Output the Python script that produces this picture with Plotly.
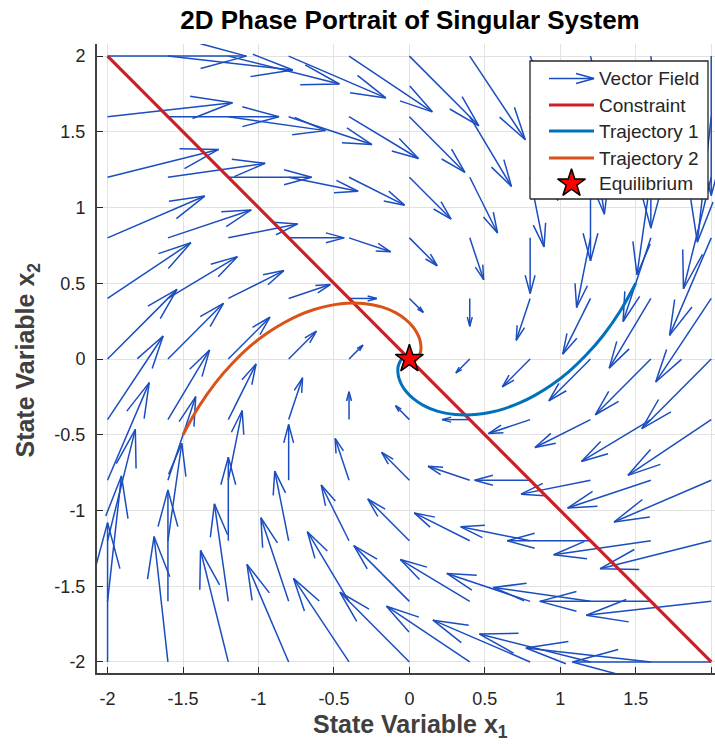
import plotly.graph_objects as go

# ---------------- data ----------------
XS = [-2.0, -1.6, -1.2, -0.8, -0.4, 0.0, 0.4, 0.8, 1.2, 1.6, 2.0]
YS = [-2.0, -1.6, -1.2, -0.8, -0.4, 0.0, 0.4, 0.8, 1.2, 1.6, 2.0]

# vector field components, one row per YS value, one column per XS value
U = [
    [0.0, -0.4, -0.8, -1.2, -1.6, -2.0, -2.4, -2.8, -3.2, -3.6, -4.0],
    [0.4, 0.0, -0.4, -0.8, -1.2, -1.6, -2.0, -2.4, -2.8, -3.2, -3.6],
    [0.8, 0.4, 0.0, -0.4, -0.8, -1.2, -1.6, -2.0, -2.4, -2.8, -3.2],
    [1.2, 0.8, 0.4, 0.0, -0.4, -0.8, -1.2, -1.6, -2.0, -2.4, -2.8],
    [1.6, 1.2, 0.8, 0.4, 0.0, -0.4, -0.8, -1.2, -1.6, -2.0, -2.4],
    [2.0, 1.6, 1.2, 0.8, 0.4, 0.0, -0.4, -0.8, -1.2, -1.6, -2.0],
    [2.4, 2.0, 1.6, 1.2, 0.8, 0.4, 0.0, -0.4, -0.8, -1.2, -1.6],
    [2.8, 2.4, 2.0, 1.6, 1.2, 0.8, 0.4, 0.0, -0.4, -0.8, -1.2],
    [3.2, 2.8, 2.4, 2.0, 1.6, 1.2, 0.8, 0.4, 0.0, -0.4, -0.8],
    [3.6, 3.2, 2.8, 2.4, 2.0, 1.6, 1.2, 0.8, 0.4, 0.0, -0.4],
    [4.0, 3.6, 3.2, 2.8, 2.4, 2.0, 1.6, 1.2, 0.8, 0.4, 0.0],
]
V = [
    [4.0, 3.6, 3.2, 2.8, 2.4, 2.0, 1.6, 1.2, 0.8, 0.4, 0.0],
    [3.6, 3.2, 2.8, 2.4, 2.0, 1.6, 1.2, 0.8, 0.4, 0.0, -0.4],
    [3.2, 2.8, 2.4, 2.0, 1.6, 1.2, 0.8, 0.4, 0.0, -0.4, -0.8],
    [2.8, 2.4, 2.0, 1.6, 1.2, 0.8, 0.4, 0.0, -0.4, -0.8, -1.2],
    [2.4, 2.0, 1.6, 1.2, 0.8, 0.4, 0.0, -0.4, -0.8, -1.2, -1.6],
    [2.0, 1.6, 1.2, 0.8, 0.4, 0.0, -0.4, -0.8, -1.2, -1.6, -2.0],
    [1.6, 1.2, 0.8, 0.4, 0.0, -0.4, -0.8, -1.2, -1.6, -2.0, -2.4],
    [1.2, 0.8, 0.4, 0.0, -0.4, -0.8, -1.2, -1.6, -2.0, -2.4, -2.8],
    [0.8, 0.4, 0.0, -0.4, -0.8, -1.2, -1.6, -2.0, -2.4, -2.8, -3.2],
    [0.4, 0.0, -0.4, -0.8, -1.2, -1.6, -2.0, -2.4, -2.8, -3.2, -3.6],
    [0.0, -0.4, -0.8, -1.2, -1.6, -2.0, -2.4, -2.8, -3.2, -3.6, -4.0],
]

CONSTRAINT_X = [-2.0, 2.0]
CONSTRAINT_Y = [2.0, -2.0]

TRAJ1_X = [1.500, 1.396, 1.285, 1.171, 1.057, 0.944, 0.834, 0.730, 0.631, 0.538,
           0.453, 0.375, 0.304, 0.184, 0.092, 0.024, -0.023, -0.053, -0.070,
           -0.076, -0.076, -0.070, -0.058, -0.043, -0.025, -0.009, 0.000, 0.003, 0.000]
TRAJ1_Y = [0.500, 0.315, 0.157, 0.026, -0.083, -0.170, -0.238, -0.290, -0.327, -0.351,
           -0.365, -0.370, -0.367, -0.344, -0.306, -0.260, -0.213, -0.167, -0.125,
           -0.089, -0.059, -0.035, -0.010, 0.006, 0.015, 0.015, 0.011, 0.002, 0.000]

TRAJ2_X = [-1.500, -1.396, -1.285, -1.171, -1.057, -0.944, -0.834, -0.730, -0.631, -0.538,
           -0.453, -0.375, -0.304, -0.184, -0.092, -0.024, 0.023, 0.053, 0.070,
           0.076, 0.076, 0.070, 0.058, 0.043, 0.025, 0.009, 0.000, -0.003, 0.000]
TRAJ2_Y = [-0.500, -0.315, -0.157, -0.026, 0.083, 0.170, 0.238, 0.290, 0.327, 0.351,
           0.365, 0.370, 0.367, 0.344, 0.306, 0.260, 0.213, 0.167, 0.125,
           0.089, 0.059, 0.035, 0.010, -0.006, -0.015, -0.015, -0.011, -0.002, 0.000]

EQ_X = [0.0]
EQ_Y = [0.0]

TICK_VALS = [-2, -1.5, -1, -0.5, 0, 0.5, 1, 1.5, 2]
TICK_TEXT = ["-2", "-1.5", "-1", "-0.5", "0", "0.5", "1", "1.5", "2"]

LEGEND_LABELS = ["Vector Field", "Constraint", "Trajectory 1", "Trajectory 2", "Equilibrium"]

# ---------------- style ----------------
QUIVER_COLOR = "#1a4dbf"
RED = "#cb2027"
BLUE = "#0072BD"
ORANGE = "#D95319"
AX_COLOR = "#262626"
FONT = "Liberation Sans, Arial, Helvetica, sans-serif"
SCALE = 0.23
ALPHA = 0.33
BETA = 0.27

W, H = 715, 744
ML, MT, MB = 97, 44, 71
PW, PH = W - ML, H - MT - MB

# quiver line segments
qx, qy = [], []
for j, y0 in enumerate(YS):
    for i, x0 in enumerate(XS):
        u = U[j][i] * SCALE
        v = V[j][i] * SCALE
        if u == 0 and v == 0:
            continue
        tx, ty = x0 + u, y0 + v
        qx += [x0, tx, None]
        qy += [y0, ty, None]
        qx += [tx - ALPHA * (u + BETA * v), tx, tx - ALPHA * (u - BETA * v), None]
        qy += [ty - ALPHA * (v - BETA * u), ty, ty - ALPHA * (v + BETA * u), None]

fig = go.Figure()
fig.add_trace(go.Scatter(x=qx, y=qy, mode="lines",
                         line=dict(color=QUIVER_COLOR, width=1.5),
                         hoverinfo="skip", showlegend=False))
fig.add_trace(go.Scatter(x=CONSTRAINT_X, y=CONSTRAINT_Y, mode="lines",
                         line=dict(color=RED, width=3.2), showlegend=False))
fig.add_trace(go.Scatter(x=TRAJ1_X, y=TRAJ1_Y, mode="lines", line_shape="spline",
                         line=dict(color=BLUE, width=3), showlegend=False))
fig.add_trace(go.Scatter(x=TRAJ2_X, y=TRAJ2_Y, mode="lines", line_shape="spline",
                         line=dict(color=ORANGE, width=3), showlegend=False))
fig.add_trace(go.Scatter(x=EQ_X, y=EQ_Y, mode="markers",
                         marker=dict(symbol="star", size=21, color="red",
                                     line=dict(color="black", width=1.5)),
                         showlegend=False))

# ---------------- manual legend on an overlay axis (pixel units) ----------------
bx0, bx1 = 433, 611
by0, by1 = 474, 612
fig.add_trace(go.Scatter(x=[bx0, bx1, bx1, bx0, bx0], y=[by0, by0, by1, by1, by0],
                         mode="lines", fill="toself", fillcolor="white",
                         line=dict(color=AX_COLOR, width=1.3),
                         xaxis="x2", yaxis="y2", showlegend=False, hoverinfo="skip"))
item_y = [594.5, 568, 542, 515, 489.5]
lx0, lx1 = 452, 497
fig.add_trace(go.Scatter(x=[lx0, lx1, None, lx1 - 18, lx1, lx1 - 18],
                         y=[item_y[0], item_y[0], None, item_y[0] + 5, item_y[0], item_y[0] - 5],
                         mode="lines", line=dict(color=QUIVER_COLOR, width=1.5),
                         xaxis="x2", yaxis="y2", showlegend=False, hoverinfo="skip"))
for k, col in zip([1, 2, 3], [RED, BLUE, ORANGE]):
    fig.add_trace(go.Scatter(x=[lx0, lx1], y=[item_y[k], item_y[k]], mode="lines",
                             line=dict(color=col, width=3),
                             xaxis="x2", yaxis="y2", showlegend=False, hoverinfo="skip"))
fig.add_trace(go.Scatter(x=[(lx0 + lx1) / 2], y=[item_y[4]], mode="markers",
                         marker=dict(symbol="star", size=21, color="red",
                                     line=dict(color="black", width=1.5)),
                         xaxis="x2", yaxis="y2", showlegend=False, hoverinfo="skip"))

annotations = []
for k, lab in enumerate(LEGEND_LABELS):
    annotations.append(dict(x=500, y=item_y[k], xref="x2", yref="y2", text=lab,
                            showarrow=False, xanchor="left", yanchor="middle",
                            font=dict(family=FONT, size=19, color=AX_COLOR)))

annotations.append(dict(x=0.01, y=0, xref="x", yref="paper", yshift=-53,
                        text="<b>State Variable x<sub>1</sub></b>", showarrow=False,
                        xanchor="center", yanchor="middle",
                        font=dict(family=FONT, size=25, color="#404040")))
annotations.append(dict(x=0, y=-0.01, xref="paper", yref="y", xshift=-70,
                        text="<b>State Variable x<sub>2</sub></b>", showarrow=False,
                        textangle=-90, xanchor="center", yanchor="middle",
                        font=dict(family=FONT, size=25, color="#404040")))

axis_common = dict(
    tickvals=TICK_VALS, ticktext=TICK_TEXT, ticks="inside", ticklen=6, tickwidth=1.3,
    tickcolor=AX_COLOR, showgrid=True, gridcolor="#e2e2e2", gridwidth=1,
    zeroline=False, showline=True, linecolor="#404040", linewidth=2,
    tickfont=dict(family=FONT, size=18, color=AX_COLOR), mirror=False,
)

fig.update_layout(
    width=W, height=H,
    margin=dict(l=ML, r=0, t=MT, b=MB, pad=0),
    paper_bgcolor="white", plot_bgcolor="white",
    xaxis=dict(range=[-2.07, 2.025], ticklabelstandoff=8, **axis_common),
    yaxis=dict(range=[-2.073, 2.08], ticklabelstandoff=6, **axis_common),
    xaxis2=dict(overlaying="x", range=[0, PW], visible=False, fixedrange=True),
    yaxis2=dict(overlaying="y", range=[0, PH], visible=False, fixedrange=True),
    title=dict(text="<b>2D Phase Portrait of Singular System</b>",
               x=410 / W, xref="container", xanchor="center",
               y=1 - 20 / H, yref="container", yanchor="middle",
               font=dict(family=FONT, size=26, color="black")),
    annotations=annotations,
    showlegend=False,
)

fig.write_html("out.html")
